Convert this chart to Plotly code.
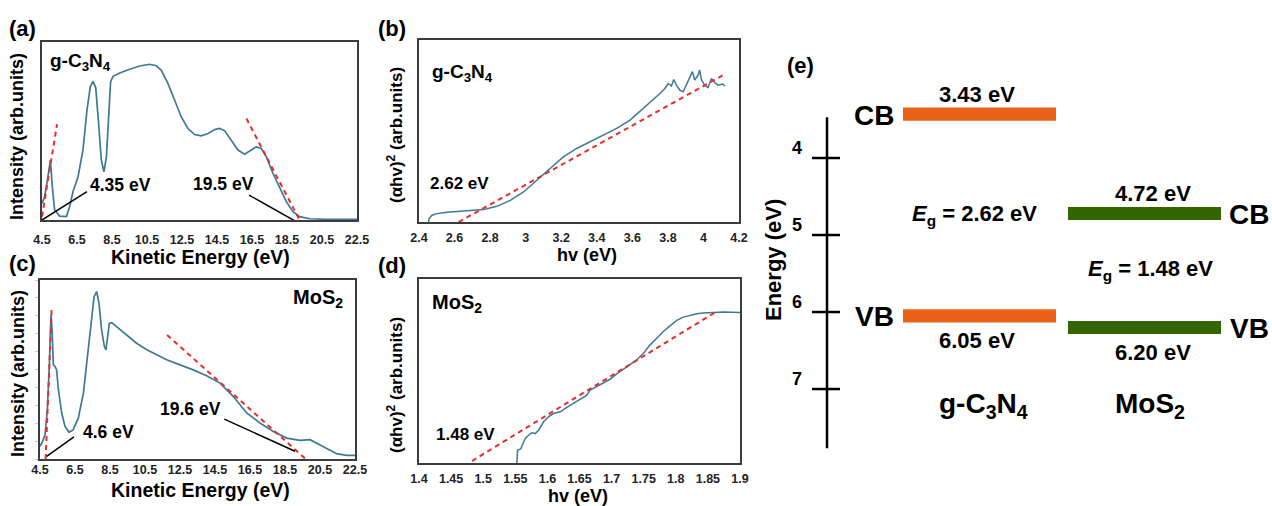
import plotly.graph_objects as go

# ---------------- data ----------------
# (a) g-C3N4 secondary-electron spectrum (normalised intensity)
ke_a = [4.50, 4.65, 4.84, 4.98, 5.09, 5.22, 5.51, 5.89, 6.08, 6.27, 6.56, 6.84, 7.07, 7.26,
        7.41, 7.57, 7.72, 7.89, 8.04, 8.18, 8.33, 8.42, 8.56, 8.94, 9.51, 10.08, 10.65, 11.03,
        11.32, 11.70, 12.08, 12.46, 12.84, 13.22, 13.60, 13.99, 14.37, 14.65, 14.94, 15.32,
        15.70, 16.08, 16.37, 16.75, 17.03, 17.32, 17.70, 18.08, 18.46, 18.84, 19.22, 19.80,
        20.75, 22.50]
int_a = [0.093, 0.131, 0.243, 0.336, 0.187, 0.056, 0.022, 0.019, 0.075, 0.159, 0.243, 0.393,
         0.617, 0.748, 0.779, 0.744, 0.561, 0.336, 0.271, 0.355, 0.617, 0.776, 0.807, 0.826,
         0.847, 0.865, 0.875, 0.867, 0.841, 0.766, 0.673, 0.579, 0.514, 0.480, 0.473, 0.486,
         0.508, 0.514, 0.501, 0.449, 0.393, 0.370, 0.389, 0.411, 0.402, 0.355, 0.262, 0.178,
         0.103, 0.047, 0.019, 0.007, 0.004, 0.004]

# (c) MoS2 secondary-electron spectrum
ke_c = [4.50, 4.65, 4.79, 4.92, 5.03, 5.13, 5.20, 5.26, 5.36, 5.45, 5.55, 5.74, 5.93, 6.16,
        6.40, 6.69, 6.98, 7.20, 7.40, 7.59, 7.74, 7.87, 8.02, 8.18, 8.27, 8.35, 8.46, 8.60,
        8.88, 9.45, 10.02, 10.60, 11.17, 11.74, 12.50, 13.26, 14.02, 14.79, 15.55, 16.31,
        17.07, 17.83, 18.60, 19.36, 19.93, 20.31, 20.88, 21.45, 22.02, 22.50]
int_c = [0.071, 0.099, 0.136, 0.275, 0.517, 0.805, 0.703, 0.526, 0.517, 0.498, 0.387, 0.257,
         0.182, 0.149, 0.164, 0.229, 0.368, 0.554, 0.758, 0.907, 0.935, 0.870, 0.721, 0.628,
         0.610, 0.684, 0.758, 0.762, 0.740, 0.693, 0.647, 0.610, 0.582, 0.554, 0.526, 0.498,
         0.465, 0.424, 0.349, 0.257, 0.201, 0.154, 0.117, 0.104, 0.108, 0.089, 0.056, 0.030,
         0.020, 0.020]

# (b) Tauc plot, g-C3N4
hv_b = [2.454, 2.456, 2.473, 2.501, 2.557, 2.613, 2.688, 2.763, 2.838, 2.913, 2.988, 3.062,
        3.137, 3.212, 3.287, 3.362, 3.437, 3.512, 3.587, 3.662, 3.717, 3.755, 3.783, 3.802,
        3.820, 3.833, 3.848, 3.867, 3.886, 3.904, 3.923, 3.938, 3.951, 3.970, 3.979, 3.989,
        4.007, 4.026, 4.045, 4.064, 4.082, 4.110, 4.120]
tauc_b = [0.000, 0.018, 0.037, 0.046, 0.053, 0.057, 0.061, 0.068, 0.086, 0.119, 0.165, 0.229,
          0.294, 0.358, 0.404, 0.440, 0.477, 0.514, 0.560, 0.624, 0.670, 0.706, 0.734, 0.761,
          0.747, 0.783, 0.752, 0.725, 0.716, 0.752, 0.798, 0.826, 0.780, 0.807, 0.835, 0.780,
          0.752, 0.739, 0.789, 0.765, 0.752, 0.758, 0.747]

# (d) Tauc plot, MoS2
hv_d = [1.5525, 1.5535, 1.5556, 1.5587, 1.5618, 1.5655, 1.5706, 1.5758, 1.5810, 1.5862,
        1.5940, 1.6017, 1.6095, 1.6199, 1.6303, 1.6406, 1.6510, 1.6614, 1.6665, 1.6769,
        1.6873, 1.6976, 1.7080, 1.7184, 1.7288, 1.7392, 1.7495, 1.7599, 1.7703, 1.7806,
        1.7910, 1.8014, 1.8118, 1.8221, 1.8325, 1.8429, 1.8585, 1.8740, 1.9000]
tauc_d = [0.000, 0.069, 0.073, 0.078, 0.105, 0.133, 0.151, 0.164, 0.160, 0.178, 0.224, 0.251,
          0.269, 0.278, 0.302, 0.324, 0.345, 0.369, 0.396, 0.415, 0.436, 0.455, 0.484, 0.509,
          0.533, 0.560, 0.596, 0.642, 0.678, 0.715, 0.745, 0.775, 0.793, 0.804, 0.811, 0.815,
          0.818, 0.820, 0.818]

# linear extrapolations (red dashed) and leader lines (black)
fit_a_low_x, fit_a_low_y = [4.50, 5.36], [0.019, 0.538]
fit_a_high_x, fit_a_high_y = [16.18, 19.32], [0.570, -0.019]
lead_a_low_x, lead_a_low_y = [4.50, 7.07], [0.000, 0.159]
lead_a_high_x, lead_a_high_y = [16.33, 19.13], [0.140, -0.015]

fit_c_low_x, fit_c_low_y = [4.82, 5.17], [0.000, 0.848]
fit_c_high_x, fit_c_high_y = [11.76, 19.68], [0.693, 0.000]
lead_c_low_x, lead_c_low_y = [4.88, 6.44], [0.015, 0.123]
lead_c_high_x, lead_c_high_y = [15.03, 19.07], [0.223, 0.043]

fit_b_x, fit_b_y = [2.623, 4.110], [0.000, 0.807]
fit_d_x, fit_d_y = [1.4825, 1.861], [0.011, 0.818]

cutoff_a = [4.35, 19.5]
cutoff_c = [4.6, 19.6]
gap_b = 2.62
gap_d = 1.48

# band alignment
materials = ["g-C<sub>3</sub>N<sub>4</sub>", "MoS<sub>2</sub>"]
cb_level = [3.43, 4.72]
vb_level = [6.05, 6.20]
band_gap = [2.62, 1.48]
band_colors = ["#EC6118", "#336600"]
energy_ticks = [4, 5, 6, 7]

ke_ticks = [4.5, 6.5, 8.5, 10.5, 12.5, 14.5, 16.5, 18.5, 20.5, 22.5]
hv_b_ticks = [2.4, 2.6, 2.8, 3.0, 3.2, 3.4, 3.6, 3.8, 4.0, 4.2]
hv_b_ticktext = ["2.4", "2.6", "2.8", "3", "3.2", "3.4", "3.6", "3.8", "4", "4.2"]
hv_d_ticks = [1.4, 1.45, 1.5, 1.55, 1.6, 1.65, 1.7, 1.75, 1.8, 1.85, 1.9]
hv_d_ticktext = ["1.4", "1.45", "1.5", "1.55", "1.6", "1.65", "1.7", "1.75", "1.8", "1.85", "1.9"]

# ---------------- styling ----------------
W, H = 1272, 506
FONT = "Liberation Sans, Arial, sans-serif"
CURVE = "#3F7893"
RED = "#EE2A2A"
FRAME = "#3C3C3C"


def px(x):
    return x / W


def py(y):
    return 1 - y / H


fig = go.Figure()


def line(x, y, xa, ya, color, width, dash=None):
    fig.add_trace(go.Scatter(x=x, y=y, xaxis=xa, yaxis=ya, mode="lines",
                             line=dict(color=color, width=width, dash=dash),
                             hoverinfo="skip", showlegend=False))


# (a)
line(ke_a, int_a, "x", "y", CURVE, 1.7)
line(fit_a_low_x, fit_a_low_y, "x", "y", RED, 2, "5px,4px")
line(fit_a_high_x, fit_a_high_y, "x", "y", RED, 2, "5px,4px")
line(lead_a_low_x, lead_a_low_y, "x", "y", "black", 1.5)
line(lead_a_high_x, lead_a_high_y, "x", "y", "black", 1.5)
# (b)
line(hv_b, tauc_b, "x2", "y2", CURVE, 1.5)
line(fit_b_x, fit_b_y, "x2", "y2", RED, 2, "5px,4px")
# (c)
line(ke_c, int_c, "x3", "y3", CURVE, 1.7)
line(fit_c_low_x, fit_c_low_y, "x3", "y3", RED, 2, "5px,4px")
line(fit_c_high_x, fit_c_high_y, "x3", "y3", RED, 2, "5px,4px")
line(lead_c_low_x, lead_c_low_y, "x3", "y3", "black", 1.5)
line(lead_c_high_x, lead_c_high_y, "x3", "y3", "black", 1.5)
# (d)
line(hv_d, tauc_d, "x4", "y4", CURVE, 1.5)
line(fit_d_x, fit_d_y, "x4", "y4", RED, 2, "5px,4px")

# (e) energy axis with crossing ticks (x measured across the page)
line([827, 827], [3.47, 7.77], "x5", "y5", "black", 2.5)
for t in energy_ticks:
    line([812, 840], [t, t], "x5", "y5", "black", 2.5)

# band edges as horizontal bars
band_left = [903, 1068]
band_len = 153
for i in range(2):
    fig.add_trace(go.Bar(y=[cb_level[i], vb_level[i]], x=[band_len, band_len],
                         base=[band_left[i], band_left[i]], orientation="h",
                         width=0.17, marker=dict(color=band_colors[i], line=dict(width=0)),
                         xaxis="x5", yaxis="y5", hoverinfo="skip", showlegend=False))

frame = dict(showline=True, mirror=True, linecolor=FRAME, linewidth=1.5,
             showgrid=False, zeroline=False)
tickf = dict(family=FONT, size=12.5, color="#222", weight="bold")

fig.update_layout(
    width=W, height=H, autosize=False,
    margin=dict(l=0, r=0, t=0, b=0, pad=0, autoexpand=False),
    paper_bgcolor="white", plot_bgcolor="rgba(0,0,0,0)", barmode="overlay",
    showlegend=False,
    font=dict(family=FONT, color="black"),
    xaxis=dict(domain=[px(42), px(357)], range=[4.5, 22.5], tickvals=ke_ticks,
               ticks="outside", ticklen=7, tickcolor="rgba(0,0,0,0)", tickfont=tickf,
               anchor="y", automargin=False, **frame),
    yaxis=dict(domain=[py(220), py(42)], range=[0, 1], showticklabels=False,
               anchor="x", automargin=False, **frame),
    xaxis2=dict(domain=[px(419), px(739)], range=[2.4, 4.2], tickvals=hv_b_ticks,
                ticktext=hv_b_ticktext, ticks="outside", ticklen=3,
                tickcolor="rgba(0,0,0,0)", tickfont=tickf, anchor="y2", automargin=False,
                **frame),
    yaxis2=dict(domain=[py(222), py(40)], range=[0, 1], showticklabels=False,
                anchor="x2", automargin=False, **frame),
    xaxis3=dict(domain=[px(40), px(355)], range=[4.5, 22.5], tickvals=ke_ticks,
                ticks="", ticklabelstandoff=-2, tickfont=tickf,
                anchor="y3", automargin=False, **frame),
    yaxis3=dict(domain=[py(459), py(280)], range=[0, 1], showticklabels=False,
                ticks="outside", ticklen=3, tickcolor="#C8C8C8", dtick=0.1,
                anchor="x3", automargin=False, **frame),
    xaxis4=dict(domain=[px(419), px(740)], range=[1.4, 1.9], tickvals=hv_d_ticks,
                ticktext=hv_d_ticktext, ticks="outside", ticklen=3,
                tickcolor="rgba(0,0,0,0)", tickfont=tickf, anchor="y4", automargin=False,
                **frame),
    yaxis4=dict(domain=[py(463), py(279)], range=[0, 1], showticklabels=False,
                anchor="x4", automargin=False, **frame),
    xaxis5=dict(domain=[0, 1], range=[0, W], visible=False, anchor="y5", automargin=False),
    yaxis5=dict(domain=[0, 1], range=[8.519, 1.948], visible=False, anchor="x5",
                automargin=False),
)

ann = []


def text(x, y, s, size, bold=True, angle=0, xanchor="center", color="black"):
    ann.append(dict(x=px(x), y=py(y), xref="paper", yref="paper", text=s,
                    showarrow=False, textangle=angle, xanchor=xanchor, yanchor="middle",
                    font=dict(family=FONT, size=size, color=color,
                              weight="bold" if bold else "normal")))


# panel letters
text(22, 28, "(a)", 22)
text(392, 28, "(b)", 22)
text(22, 263, "(c)", 22)
text(392, 265, "(d)", 22)
text(800, 65, "(e)", 22)

# axis titles
text(17, 137, "Intensity (arb.units)", 18, angle=-90)
text(18, 374, "Intensity (arb.units)", 18, angle=-90)
text(200, 257, "Kinetic Energy (eV)", 19.5)
text(200, 490, "Kinetic Energy (eV)", 19.5)
text(395, 135, "(αhv)<sup>2</sup> (arb.units)", 17, angle=-90)
text(395, 385, "(αhv)<sup>2</sup> (arb.units)", 17, angle=-90)
text(587, 255, "hv (eV)", 18)
text(578, 496, "hv (eV)", 18)

# sample names and fitted values inside panels
text(48, 62, materials[0], 19, xanchor="left")
text(120, 185, f"{cutoff_a[0]:.2f} eV", 17.5)
text(223, 184, f"{cutoff_a[1]:.1f} eV", 17.5)
text(318, 298, materials[1], 20)
text(108, 432, f"{cutoff_c[0]:.1f} eV", 17.5)
text(190, 409, f"{cutoff_c[1]:.1f} eV", 17.5)
text(430, 73, materials[0], 19, xanchor="left")
text(460, 183, f"{gap_b:.2f} eV", 17)
text(430, 303, materials[1], 20, xanchor="left")
text(465, 434, f"{gap_d:.2f} eV", 17)

# (e) labels tied to the energy scale
for t in energy_ticks:
    ann.append(dict(x=797, y=t, xref="x5", yref="y5", text=str(t), showarrow=False,
                    yshift=10, font=dict(family=FONT, size=18, weight="bold")))

level_x = [977, 1153]
side_x = [874, 1271]
side_anchor = ["center", "right"]
for i in range(2):
    ann.append(dict(x=level_x[i], y=cb_level[i], xref="x5", yref="y5",
                    text=f"{cb_level[i]:.2f} eV", showarrow=False, yshift=20,
                    font=dict(family=FONT, size=22, weight="bold")))
    ann.append(dict(x=level_x[i], y=vb_level[i], xref="x5", yref="y5",
                    text=f"{vb_level[i]:.2f} eV", showarrow=False, yshift=-25,
                    font=dict(family=FONT, size=22, weight="bold")))
    for lvl, lab in ((cb_level[i], "CB"), (vb_level[i], "VB")):
        ann.append(dict(x=side_x[i], y=lvl, xref="x5", yref="y5", text=lab,
                        showarrow=False, yshift=-1, xanchor=side_anchor[i],
                        font=dict(family=FONT, size=28, weight="bold")))
    ann.append(dict(x=level_x[i] - 3, y=(cb_level[i] + vb_level[i]) / 2, xref="x5", yref="y5",
                    text=f"<i>E</i><sub>g</sub> = {band_gap[i]:.2f} eV", showarrow=False,
                    font=dict(family=FONT, size=22, weight="bold")))
    ann.append(dict(x=[983, 1150][i], y=py(425), xref="x5", yref="paper", text=materials[i],
                    showarrow=False, font=dict(family=FONT, size=28, weight="bold")))

text(773, 260, "Energy (eV)", 22, angle=-90)

fig.update_layout(annotations=ann)
fig.write_html("out.html")
